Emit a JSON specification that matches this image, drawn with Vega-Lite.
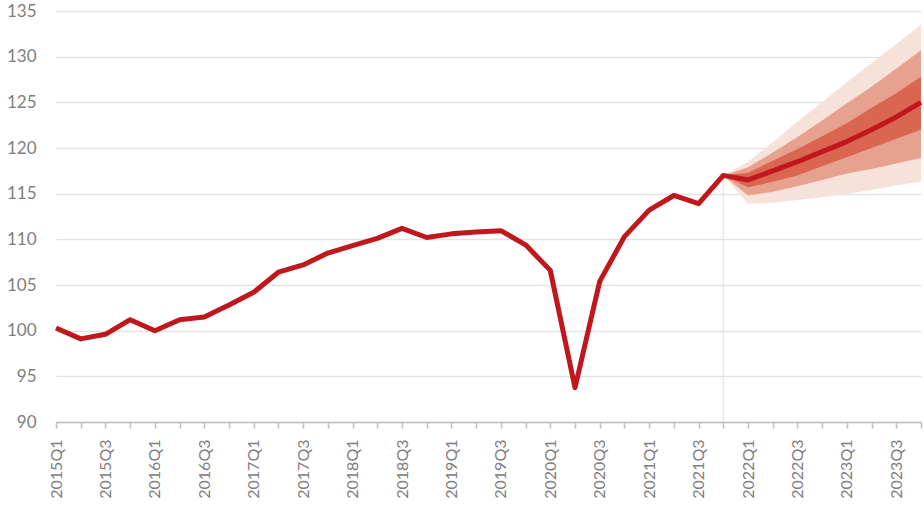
{
  "$schema": "https://vega.github.io/schema/vega-lite/v6.json",
  "autosize": {"type": "none"},
  "width": 865,
  "height": 411,
  "padding": {"left": 56, "top": 11, "right": 3, "bottom": 87},
  "background": "white",
  "config": {
    "view": {"stroke": null},
    "axis": {"labelFont": "Lato", "labelColor": "#808080"}
  },
  "data": {"values": [
    {"q": "2015Q1", "v": 100.3},
    {"q": "2015Q2", "v": 99.1},
    {"q": "2015Q3", "v": 99.6},
    {"q": "2015Q4", "v": 101.2},
    {"q": "2016Q1", "v": 100.0},
    {"q": "2016Q2", "v": 101.2},
    {"q": "2016Q3", "v": 101.5},
    {"q": "2016Q4", "v": 102.8},
    {"q": "2017Q1", "v": 104.2},
    {"q": "2017Q2", "v": 106.4},
    {"q": "2017Q3", "v": 107.2},
    {"q": "2017Q4", "v": 108.5},
    {"q": "2018Q1", "v": 109.3},
    {"q": "2018Q2", "v": 110.1},
    {"q": "2018Q3", "v": 111.2},
    {"q": "2018Q4", "v": 110.2},
    {"q": "2019Q1", "v": 110.6},
    {"q": "2019Q2", "v": 110.8},
    {"q": "2019Q3", "v": 110.95},
    {"q": "2019Q4", "v": 109.4},
    {"q": "2020Q1", "v": 106.6},
    {"q": "2020Q2", "v": 93.75},
    {"q": "2020Q3", "v": 105.4},
    {"q": "2020Q4", "v": 110.3},
    {"q": "2021Q1", "v": 113.2},
    {"q": "2021Q2", "v": 114.8},
    {"q": "2021Q3", "v": 113.9},
    {"q": "2021Q4", "v": 117.0, "l1": 117.0, "h1": 117.0, "l2": 117.0, "h2": 117.0, "l3": 117.0, "h3": 117.0},
    {"q": "2022Q1", "v": 116.5, "l1": 115.7, "h1": 117.3, "l2": 114.8, "h2": 117.9, "l3": 113.9, "h3": 118.5},
    {"q": "2022Q2", "v": 117.5, "l1": 116.3, "h1": 118.6, "l2": 115.2, "h2": 119.5, "l3": 114.0, "h3": 120.6},
    {"q": "2022Q3", "v": 118.5, "l1": 117.0, "h1": 119.9, "l2": 115.8, "h2": 121.2, "l3": 114.3, "h3": 122.9},
    {"q": "2022Q4", "v": 119.6, "l1": 118.0, "h1": 121.3, "l2": 116.5, "h2": 123.0, "l3": 114.6, "h3": 125.0},
    {"q": "2023Q1", "v": 120.7, "l1": 119.0, "h1": 122.7, "l2": 117.2, "h2": 124.9, "l3": 115.0, "h3": 127.2},
    {"q": "2023Q2", "v": 122.0, "l1": 120.0, "h1": 124.4, "l2": 117.7, "h2": 126.7, "l3": 115.4, "h3": 129.3},
    {"q": "2023Q3", "v": 123.4, "l1": 121.0, "h1": 126.0, "l2": 118.3, "h2": 128.7, "l3": 115.9, "h3": 131.4},
    {"q": "2023Q4", "v": 125.0, "l1": 122.0, "h1": 127.8, "l2": 118.9, "h2": 130.7, "l3": 116.3, "h3": 133.5}
  ]},
  "layer": [
    {
      "transform": [{"filter": "datum.l3 != null"}],
      "mark": {"type": "area", "color": "#f7e2da", "opacity": 1},
      "encoding": {
        "x": {
          "field": "q", "type": "ordinal", "sort": null,
          "scale": {"type": "point", "padding": 0,
            "domain": ["2015Q1","2015Q2","2015Q3","2015Q4","2016Q1","2016Q2","2016Q3","2016Q4","2017Q1","2017Q2","2017Q3","2017Q4","2018Q1","2018Q2","2018Q3","2018Q4","2019Q1","2019Q2","2019Q3","2019Q4","2020Q1","2020Q2","2020Q3","2020Q4","2021Q1","2021Q2","2021Q3","2021Q4","2022Q1","2022Q2","2022Q3","2022Q4","2023Q1","2023Q2","2023Q3","2023Q4"]},
          "axis": {
            "title": null,
            "labelAngle": -90,
            "labelFontSize": 16,
            "labelPadding": 11,
            "labelExpr": "indexof(datum.value, 'Q2') >= 0 || indexof(datum.value, 'Q4') >= 0 ? '' : datum.value",
            "domainColor": "#bfbfbf",
            "domainWidth": 1.5,
            "tickColor": "#bfbfbf",
            "tickWidth": 1.5,
            "tickSize": 6,
            "labelOverlap": false,
            "grid": false
          }
        },
        "y": {
          "field": "l3", "type": "quantitative",
          "scale": {"domain": [90, 135], "nice": false, "zero": false},
          "axis": {
            "title": null, "values": [90, 95, 100, 105, 110, 115, 120, 125, 130, 135],
            "domain": false, "ticks": false, "labelFontSize": 17, "labelPadding": 20,
            "grid": true, "gridColor": "#e3e3e3", "gridWidth": 1.5
          }
        },
        "y2": {"field": "h3"}
      }
    },
    {
      "transform": [{"filter": "datum.l2 != null"}],
      "mark": {"type": "area", "color": "#e6a28e", "opacity": 1},
      "encoding": {
        "x": {"field": "q", "type": "ordinal", "sort": null},
        "y": {"field": "l2", "type": "quantitative"},
        "y2": {"field": "h2"}
      }
    },
    {
      "transform": [{"filter": "datum.l1 != null"}],
      "mark": {"type": "area", "color": "#da6651", "opacity": 1},
      "encoding": {
        "x": {"field": "q", "type": "ordinal", "sort": null},
        "y": {"field": "l1", "type": "quantitative"},
        "y2": {"field": "h1"}
      }
    },
    {
      "transform": [{"filter": "datum.q == '2021Q4'"}],
      "mark": {"type": "rule", "stroke": "#f5dcd4", "strokeWidth": 1},
      "encoding": {
        "x": {"field": "q", "type": "ordinal", "sort": null},
        "y": {"field": "v", "type": "quantitative"},
        "y2": {"datum": 90}
      }
    },
    {
      "mark": {"type": "line", "color": "#c0171d", "strokeWidth": 5, "strokeJoin": "round"},
      "encoding": {
        "x": {"field": "q", "type": "ordinal", "sort": null},
        "y": {"field": "v", "type": "quantitative"}
      }
    }
  ]
}
